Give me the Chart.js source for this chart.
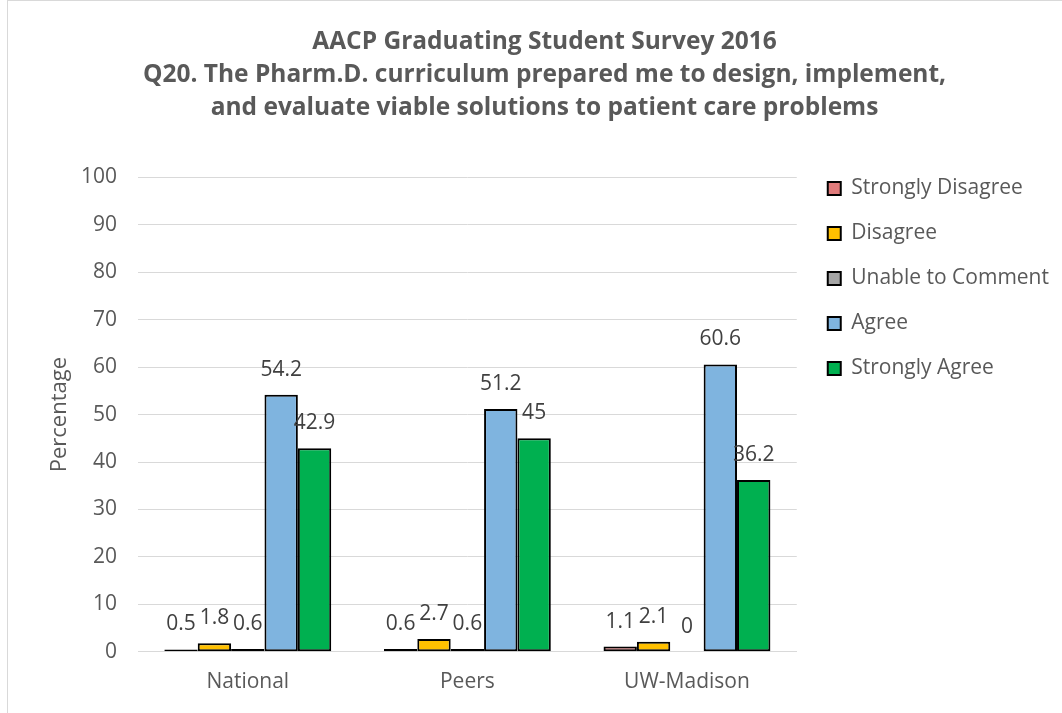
<!DOCTYPE html>
<html>
<head>
<meta charset="utf-8">
<script src="https://cdn.jsdelivr.net/npm/chart.js@4.4.1/dist/chart.umd.min.js"></script>
<style>
  body { margin: 0; background: #fff; overflow: hidden; }
  #wrap { position: absolute; left: 7px; top: 0; width: 1054px; height: 712px; border-left: 1px solid #d9d9d9; border-top: 1px solid #d9d9d9; }
</style>
</head>
<body>
<div id="wrap"><canvas id="chartCanvas" width="1054" height="712"></canvas></div>
<script>
// categories and series
var groups = ['National', 'Peers', 'UW-Madison'];
var stronglyDisagree = [0.5, 0.6, 1.1];
var disagree = [1.8, 2.7, 2.1];
var unableToComment = [0.6, 0.6, 0];
var agree = [54.2, 51.2, 60.6];
var stronglyAgree = [42.9, 45, 36.2];

var titleLines = [
  'AACP Graduating Student Survey 2016',
  'Q20. The Pharm.D. curriculum prepared me to design, implement,',
  'and evaluate viable solutions to patient care problems'
];

// draw value labels above each bar
var valueLabels = {
  id: 'valueLabels',
  afterDatasetsDraw: function(chart) {
    var ctx = chart.ctx;
    ctx.save();
    ctx.font = '21px "Open Sans"';
    ctx.fillStyle = '#404040';
    ctx.textAlign = 'center';
    ctx.textBaseline = 'middle';
    chart.data.datasets.forEach(function(ds, i) {
      var meta = chart.getDatasetMeta(i);
      meta.data.forEach(function(bar, j) {
        ctx.fillText(String(ds.data[j]), bar.x, bar.y - 25);
      });
    });
    ctx.restore();
  }
};

// put the legend block next to the plot, near its top
var legendPlace = {
  id: 'legendPlace',
  afterLayout: function(chart) {
    var lg = chart.legend;
    var h = lg.bottom - lg.top;
    lg.left = chart.chartArea.right + 7;
    lg.top = 153;
    lg.bottom = lg.top + h;
  }
};

function makeSet(label, data, color) {
  return {
    label: label,
    data: data,
    backgroundColor: color,
    borderColor: '#000000',
    borderWidth: 2,
    borderSkipped: false
  };
}

var ctx = document.getElementById('chartCanvas').getContext('2d');
var currentChart = new Chart(ctx, {
  type: 'bar',
  data: {
    labels: groups,
    datasets: [
      makeSet('Strongly Disagree', stronglyDisagree, '#e07b7b'),
      makeSet('Disagree', disagree, '#ffc000'),
      makeSet('Unable to Comment', unableToComment, '#a5a5a5'),
      makeSet('Agree', agree, '#7fb4df'),
      makeSet('Strongly Agree', stronglyAgree, '#00b050')
    ]
  },
  options: {
    responsive: false,
    animation: false,
    layout: { padding: { left: 32, right: 13, top: 0, bottom: 0 } },
    datasets: {
      bar: { categoryPercentage: 0.76, barPercentage: 1 }
    },
    scales: {
      x: {
        grid: { display: false, drawTicks: false },
        border: { display: true, color: '#d9d9d9' },
        ticks: { color: '#595959', font: { family: 'Open Sans', size: 21 }, padding: 18 }
      },
      y: {
        min: 0,
        max: 100,
        afterFit: function(scale) { scale.width = 98; },
        ticks: { stepSize: 10, color: '#595959', font: { family: 'Open Sans', size: 21 }, padding: 21 },
        grid: { color: '#d9d9d9', drawTicks: false },
        border: { display: false },
        title: { display: true, text: 'Percentage', color: '#595959', font: { family: 'Open Sans', size: 22 }, padding: { top: 7, bottom: 4 } }
      }
    },
    plugins: {
      title: {
        display: true,
        text: titleLines,
        color: '#595959',
        font: { family: 'Open Sans', size: 24.5, weight: 'bold', lineHeight: 1.347 },
        padding: { top: 24.5, bottom: 53 }
      },
      legend: {
        position: 'right',
        align: 'start',
        fullSize: false,
        labels: {
          color: '#595959',
          font: { family: 'Open Sans', size: 21 },
          boxWidth: 13,
          boxHeight: 13,
          padding: 24
        }
      },
      tooltip: { enabled: false }
    }
  },
  plugins: [valueLabels, legendPlace]
});
</script>
</body>
</html>
